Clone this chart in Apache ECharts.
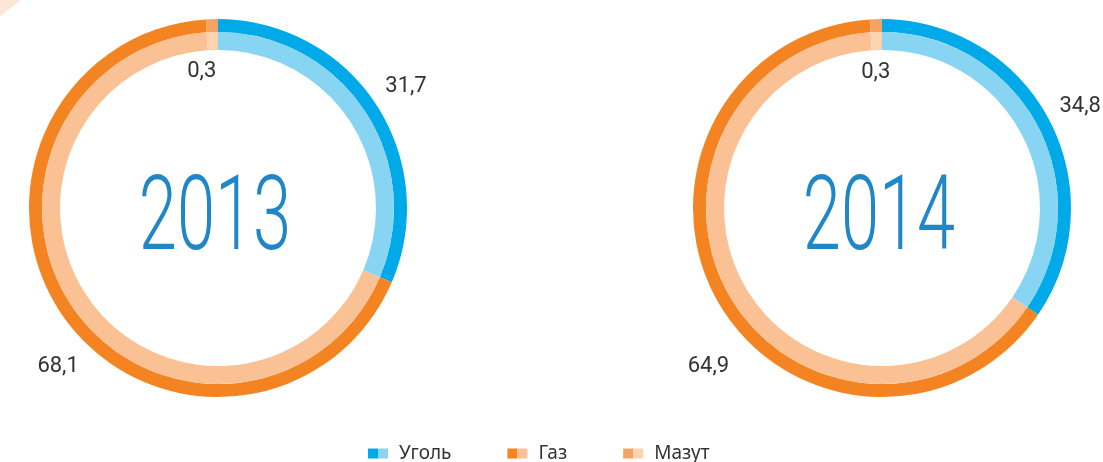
<!DOCTYPE html>
<html>
<head>
<meta charset="utf-8">
<script src="https://cdn.jsdelivr.net/npm/echarts@6.0.0/dist/echarts.min.js"></script>
<style>
  html, body { margin: 0; padding: 0; background: #fff; }
  #main { width: 1103px; height: 462px; }
</style>
</head>
<body>
<div id="main"></div>
<script>
// ---------- data ----------
var years = ['2013', '2014'];
var fuels = ['Уголь', 'Газ', 'Мазут'];
var share2013 = [31.7, 68.1, 0.3];
var share2014 = [34.8, 64.9, 0.3];
var shares = [share2013, share2014];

// ---------- look ----------
var darkColors = ['#00a9e7', '#f48322', '#f5a263'];
var lightColors = ['#88d4f3', '#f9c194', '#fcd3b1'];
var centers = [[218, 208], [882, 208]];
// label nudges (per year, per fuel)
var labelShift = [
    [{dx: 1, dy: 2}, {dx: 23, dy: 29}, {dx: -9, dy: 87}],
    [{dx: 0, dy: 3}, {dx: 21, dy: 48}, {dx: 1, dy: 88}]
];

var dom = document.getElementById('main');
var myChart = echarts.init(dom, null, {renderer: 'canvas'});

function fmt(v) {
    return v.toFixed(1).replace('.', ',');
}

var series = [];
var graphics = [
    {type: 'polygon', shape: {points: [[0, 0], [21, 0], [0, 16]]}, style: {fill: '#fde6d6'}, silent: true}
];

for (var y = 0; y < years.length; y++) {
    var dark = [], light = [], blank = [];
    for (var i = 0; i < fuels.length; i++) {
        dark.push({name: fuels[i], value: shares[y][i], itemStyle: {color: darkColors[i]}});
        light.push({name: fuels[i], value: shares[y][i], itemStyle: {color: lightColors[i]}});
        blank.push({name: fuels[i], value: shares[y][i]});
    }
    var common = {
        type: 'pie',
        center: centers[y],
        startAngle: 90,
        clockwise: true,
        minAngle: 3.7,
        avoidLabelOverlap: false,
        silent: true,
        label: {show: false},
        labelLine: {show: false},
        emphasis: {disabled: true}
    };
    series.push(Object.assign({}, common, {
        name: years[y] + ' outer',
        radius: [176, 189],
        itemStyle: {borderWidth: 0},
        data: dark
    }));
    series.push(Object.assign({}, common, {
        name: years[y] + ' inner',
        radius: [158, 176],
        itemStyle: {borderWidth: 0},
        data: light
    }));
    // transparent ring that only carries the value labels
    (function (yi) {
        series.push(Object.assign({}, common, {
            name: years[yi] + ' labels',
            radius: [200, 242],
            itemStyle: {color: 'rgba(0,0,0,0)', borderWidth: 0},
            label: {
                show: true,
                position: 'inside',
                fontFamily: 'Roboto',
                fontSize: 22,
                color: '#333333',
                formatter: function (p) { return fmt(p.value); }
            },
            labelLayout: function (p) { return labelShift[yi][p.dataIndex]; },
            data: blank
        }));
    })(y);

    graphics.push({
        type: 'text',
        x: centers[y][0] - 3,
        y: centers[y][1] + 15,
        scaleX: 0.66,
        silent: true,
        style: {
            text: years[y],
            fontFamily: 'Roboto',
            fontWeight: 300,
            fontSize: 104,
            fill: '#1f87c8',
            textAlign: 'center',
            textVerticalAlign: 'middle'
        }
    });
}

var legendDark = [], legendLight = [];
for (var i = 0; i < fuels.length; i++) {
    legendDark.push({name: fuels[i], itemStyle: {color: darkColors[i], borderWidth: 0}});
    legendLight.push({name: fuels[i], itemStyle: {color: lightColors[i], borderWidth: 0}});
}
var legendCommon = {
    left: 363,
    top: 439,
    orient: 'horizontal',
    itemWidth: 26,
    itemHeight: 10,
    itemGap: 56,
    symbolKeepAspect: false,
    selectedMode: false,
    textStyle: {fontFamily: 'Noto Sans', fontSize: 19, color: '#333333'}
};

option = {
    animation: false,
    backgroundColor: '#ffffff',
    legend: [
        Object.assign({}, legendCommon, {
            icon: 'path://M0,0H10V10H0Z M26,0L26,10',
            data: legendDark
        }),
        Object.assign({}, legendCommon, {
            icon: 'path://M0,0L0,10 M10,0H20V10H10Z M26,0L26,10',
            textStyle: {fontFamily: 'Noto Sans', fontSize: 19, color: 'rgba(0,0,0,0)'},
            data: legendLight
        })
    ],
    graphic: graphics,
    series: series
};

if (option && typeof option === 'object') {
    myChart.setOption(option, true);
}
</script>
</body>
</html>
